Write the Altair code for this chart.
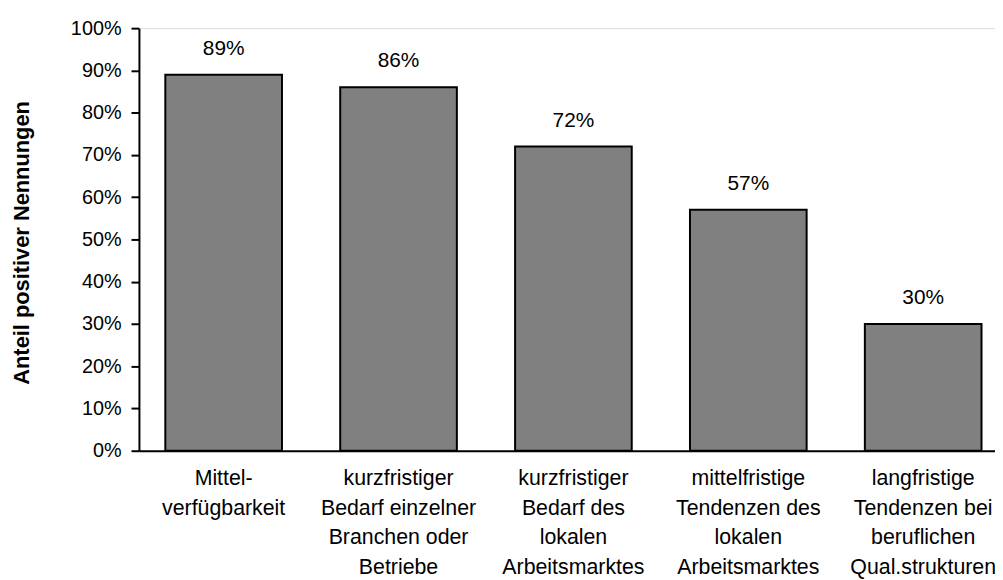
import altair as alt
import pandas as pd

categories = [
    "Mittel-\nverfügbarkeit",
    "kurzfristiger\nBedarf einzelner\nBranchen oder\nBetriebe",
    "kurzfristiger\nBedarf des\nlokalen\nArbeitsmarktes",
    "mittelfristige\nTendenzen des\nlokalen\nArbeitsmarktes",
    "langfristige\nTendenzen bei\nberuflichen\nQual.strukturen",
]
values = [89, 86, 72, 57, 30]
y_ticks = [0, 10, 20, 30, 40, 50, 60, 70, 80, 90, 100]

df = pd.DataFrame({"cat": categories, "val": values})
df["lab"] = df["val"].astype(str) + "%"

FONT = "Liberation Sans"
SHIFT = 6.5

x = alt.X(
    "cat:N",
    sort=categories,
    scale=alt.Scale(paddingInner=0.333, paddingOuter=0.114),
    axis=alt.Axis(
        title=None,
        labelExpr="split(datum.label, '\\n')",
        labelAngle=0,
        labelFont=FONT,
        labelFontSize=21.5,
        labelColor="black",
        labelLineHeight=30,
        labelPadding=17,
        labelBaseline="top",
        labelOffset=SHIFT,
        ticks=False,
        domainColor="black",
        domainWidth=2,
        labelLimit=300,
    ),
)
y = alt.Y(
    "val:Q",
    scale=alt.Scale(domain=[0, 100], nice=False),
    axis=alt.Axis(
        title="Anteil positiver Nennungen",
        titleFont=FONT,
        titleFontSize=22,
        titleFontWeight="bold",
        titleColor="black",
        titleX=-118,
        titleY=216,
        titleAngle=270,
        titleAlign="center",
        titleBaseline="middle",
        values=y_ticks,
        labelExpr="datum.value + '%'",
        labelFont=FONT,
        labelFontSize=20,
        labelColor="black",
        labelPadding=10,
        tickSize=8,
        tickColor="black",
        tickWidth=2,
        domainColor="black",
        domainWidth=2,
        grid=False,
    ),
)

bars = alt.Chart(df).mark_bar(
    color="#808080", stroke="black", strokeWidth=2, xOffset=SHIFT
).encode(x=x, y=y)

labels = alt.Chart(df).mark_text(
    font=FONT, fontSize=21, color="black", baseline="alphabetic", dy=-20, xOffset=SHIFT
).encode(x=alt.X("cat:N", sort=categories), y="val:Q", text="lab:N")

chart = (
    alt.layer(bars, labels)
    .properties(
        width=863,
        height=426,
        autosize=alt.AutoSizeParams(type="none"),
        padding={"left": 132, "top": 18, "right": 0, "bottom": 128},
    )
    .configure_view(strokeWidth=0, stroke="transparent")
    .configure(background="white")
)

chart.save("out.html", embed_options={"renderer": "svg", "actions": False})
